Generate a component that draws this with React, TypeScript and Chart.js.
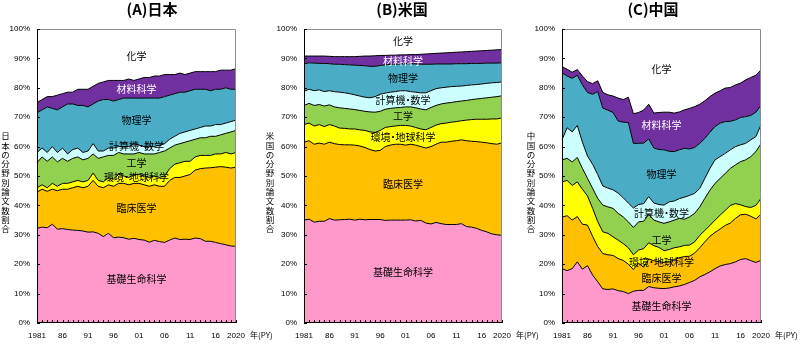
import React, { useEffect, useRef } from "react";
import { Chart, registerables } from "chart.js";

Chart.register(...registerables);

// ---------- categories ----------
const years = [
  1981, 1982, 1983, 1984, 1985, 1986, 1987, 1988, 1989, 1990,
  1991, 1992, 1993, 1994, 1995, 1996, 1997, 1998, 1999, 2000,
  2001, 2002, 2003, 2004, 2005, 2006, 2007, 2008, 2009, 2010,
  2011, 2012, 2013, 2014, 2015, 2016, 2017, 2018, 2019, 2020,
];
const xTickYears = [1981, 1986, 1991, 1996, 2001, 2006, 2011, 2016, 2020];
const xTickTexts = ["1981", "86", "91", "96", "01", "06", "11", "16", "2020"];
const yTickValues = [0, 10, 20, 30, 40, 50, 60, 70, 80, 90, 100];

const fieldNames = ["基礎生命科学", "臨床医学", "環境・地球科学", "工学", "計算機・数学", "物理学", "材料科学", "化学"];
const fieldColors = ["#FF99CC", "#FFC000", "#FFFF00", "#92D050", "#CCFFFF", "#4BACC6", "#7030A0", "#FFFFFF"];

// ---------- (A) Japan: share of papers by field (%) ----------
const jpLife = [32.2, 32.6, 32.4, 33.6, 31.9, 32.1, 31.8, 31.6, 31.5, 31.3, 30.9, 31.0, 30.5, 29.4, 30.5, 29.0, 29.2, 29.0, 28.5, 28.8, 28.4, 28.2, 27.5, 28.1, 27.7, 27.4, 28.2, 28.9, 28.4, 28.5, 28.4, 28.9, 28.7, 27.8, 27.8, 27.4, 27.0, 26.6, 26.2, 26.1];
const jpClinical = [12.3, 12.9, 12.4, 11.9, 13.1, 13.4, 13.7, 14.4, 15.0, 14.7, 15.6, 17.5, 16.0, 16.6, 16.5, 17.5, 18.3, 18.5, 18.5, 18.7, 19.1, 18.8, 19.0, 18.9, 18.8, 19.1, 20.3, 20.6, 21.1, 21.5, 22.1, 23.1, 23.8, 24.9, 25.0, 25.6, 26.2, 26.4, 26.5, 26.9];
const jpEnv = [1.5, 1.5, 1.2, 2.0, 1.5, 2.0, 2.0, 2.0, 2.0, 2.0, 2.0, 2.5, 2.0, 2.0, 2.5, 2.5, 3.0, 2.5, 2.5, 3.0, 3.0, 3.0, 3.0, 3.0, 3.0, 3.5, 4.0, 4.5, 5.0, 5.0, 4.5, 4.5, 4.5, 4.3, 4.2, 4.5, 4.3, 5.0, 4.8, 5.0];
const jpEng = [8.5, 9.5, 9.0, 9.0, 8.3, 8.5, 7.5, 8.0, 8.0, 7.5, 7.5, 6.5, 7.5, 8.5, 7.5, 8.0, 7.5, 7.5, 8.0, 7.0, 7.5, 7.5, 8.0, 7.5, 8.5, 8.5, 7.0, 6.5, 6.5, 6.5, 7.0, 6.0, 6.0, 6.0, 6.5, 6.0, 6.5, 6.5, 7.5, 7.5];
const jpComp = [3.5, 3.0, 3.0, 3.5, 3.2, 3.5, 2.5, 3.0, 3.0, 2.5, 2.5, 3.5, 2.5, 2.0, 2.5, 2.5, 2.0, 2.5, 2.5, 3.5, 2.5, 2.5, 2.5, 2.5, 2.5, 2.5, 3.0, 3.0, 3.5, 3.5, 3.5, 3.5, 3.5, 4.0, 3.5, 4.0, 3.5, 3.5, 3.5, 3.5];
const jpPhys = [13.5, 13.0, 15.5, 13.0, 14.5, 14.0, 17.0, 15.5, 14.5, 16.0, 15.0, 13.5, 17.0, 17.5, 16.5, 16.0, 16.0, 16.5, 16.5, 15.5, 16.0, 16.5, 16.5, 16.5, 16.0, 16.0, 15.0, 14.5, 14.0, 13.5, 13.5, 13.5, 13.0, 12.5, 12.0, 12.0, 12.0, 12.0, 11.0, 10.5];
const jpMat = [3.5, 3.5, 3.5, 4.0, 5.0, 4.5, 4.0, 4.0, 5.5, 5.5, 6.0, 6.0, 6.0, 6.0, 6.5, 7.0, 6.5, 6.0, 6.5, 6.0, 6.5, 7.0, 7.0, 7.5, 7.5, 7.5, 7.0, 6.5, 6.5, 6.0, 6.0, 6.0, 6.0, 6.0, 6.5, 6.0, 6.5, 6.0, 6.5, 7.0];
const jpChem = [25.0, 24.0, 23.0, 23.0, 22.5, 22.0, 21.5, 21.5, 20.5, 20.5, 20.5, 19.5, 18.5, 18.0, 17.5, 17.5, 17.5, 17.5, 17.0, 17.5, 17.0, 16.5, 16.5, 16.0, 16.0, 15.5, 15.5, 15.5, 15.0, 15.5, 15.0, 14.5, 14.5, 14.5, 14.5, 14.5, 14.0, 14.0, 14.0, 13.5];

// ---------- (B) USA ----------
const usLife = [35.0, 35.3, 34.3, 34.6, 34.6, 35.5, 35.0, 35.1, 35.2, 35.3, 35.0, 35.3, 35.1, 35.2, 35.2, 35.2, 34.9, 35.0, 35.0, 35.0, 35.0, 35.1, 34.7, 34.9, 34.0, 33.7, 34.2, 33.8, 33.5, 33.5, 33.5, 33.8, 32.8, 32.6, 32.2, 31.5, 31.0, 30.3, 30.0, 29.8];
const usClinical = [26.5, 26.7, 26.5, 26.6, 26.2, 26.0, 26.0, 25.6, 25.4, 25.3, 25.5, 24.9, 24.6, 23.8, 23.3, 23.5, 25.1, 25.5, 25.8, 25.8, 25.5, 25.7, 25.8, 25.1, 25.5, 26.3, 26.6, 27.7, 28.0, 28.3, 28.5, 28.5, 29.2, 29.2, 29.5, 30.0, 30.3, 30.7, 30.8, 31.5];
const usEnv = [6.0, 6.0, 6.2, 6.3, 6.0, 6.0, 6.0, 5.6, 5.6, 5.4, 5.5, 5.5, 5.8, 6.0, 6.3, 6.8, 6.5, 6.3, 6.2, 6.4, 6.7, 6.2, 6.0, 6.0, 6.2, 6.5, 6.5, 6.3, 6.5, 6.5, 6.5, 6.5, 7.0, 7.4, 7.6, 7.8, 8.0, 8.4, 8.6, 8.5];
const usEng = [6.5, 6.7, 7.0, 6.8, 7.0, 6.7, 6.5, 6.9, 6.8, 6.8, 6.6, 6.6, 6.5, 6.8, 6.9, 6.5, 6.2, 6.2, 6.2, 6.1, 6.3, 6.5, 6.7, 6.8, 6.8, 6.8, 6.7, 6.7, 6.8, 6.7, 6.8, 6.7, 6.7, 6.8, 6.9, 7.1, 7.3, 7.4, 7.6, 7.5];
const usComp = [4.8, 4.8, 5.0, 5.0, 4.9, 4.8, 5.2, 5.3, 5.3, 5.2, 5.0, 4.9, 4.8, 4.8, 5.3, 5.8, 5.5, 5.5, 5.5, 5.7, 5.5, 5.2, 5.3, 5.5, 5.8, 5.7, 5.7, 5.5, 5.4, 5.4, 5.2, 5.1, 5.1, 5.0, 4.9, 4.9, 4.9, 4.9, 4.8, 4.7];
const usPhys = [9.4, 9.0, 9.4, 9.0, 9.6, 9.2, 9.3, 9.5, 9.6, 9.8, 10.1, 10.4, 10.7, 10.7, 10.3, 9.8, 9.6, 9.5, 9.3, 9.1, 9.2, 9.5, 9.6, 9.7, 9.7, 9.0, 8.4, 8.1, 7.9, 7.7, 7.7, 7.6, 7.4, 7.3, 7.2, 7.0, 6.9, 6.7, 6.6, 6.5];
const usMat = [2.6, 2.3, 2.4, 2.5, 2.5, 2.5, 2.6, 2.6, 2.7, 2.8, 2.9, 3.1, 3.3, 3.5, 3.6, 3.4, 3.2, 3.1, 3.1, 3.1, 3.0, 3.1, 3.2, 3.4, 3.5, 3.6, 3.6, 3.7, 3.8, 3.9, 3.9, 4.0, 4.1, 4.1, 4.2, 4.3, 4.3, 4.4, 4.5, 4.5];
const usChem = [9.2, 9.2, 9.2, 9.2, 9.2, 9.3, 9.4, 9.4, 9.4, 9.4, 9.4, 9.3, 9.2, 9.2, 9.1, 9.0, 9.0, 8.9, 8.9, 8.8, 8.8, 8.7, 8.7, 8.6, 8.5, 8.4, 8.3, 8.2, 8.1, 8.0, 7.9, 7.8, 7.7, 7.6, 7.5, 7.4, 7.3, 7.2, 7.1, 7.0];

// ---------- (C) China ----------
const cnLife = [18.5, 17.8, 18.5, 20.8, 18.3, 19.5, 16.3, 14.0, 11.6, 11.4, 11.6, 11.0, 10.7, 10.0, 10.8, 11.1, 11.1, 12.4, 12.0, 11.8, 11.7, 11.9, 12.3, 12.6, 13.1, 13.8, 14.5, 15.7, 16.5, 17.4, 18.5, 19.4, 19.9, 20.2, 20.8, 21.6, 21.9, 21.2, 20.6, 21.3];
const cnClinical = [17.5, 18.7, 16.5, 15.4, 15.3, 13.8, 13.2, 12.0, 12.0, 11.8, 11.4, 10.9, 10.6, 10.0, 7.4, 9.2, 7.9, 9.4, 9.2, 9.0, 8.9, 8.9, 9.2, 9.6, 9.5, 8.9, 9.3, 9.9, 11.1, 12.1, 12.3, 12.6, 13.3, 13.8, 14.8, 15.2, 15.1, 15.1, 14.8, 15.7];
const cnEnv = [12.0, 12.0, 11.8, 11.8, 11.9, 9.9, 9.5, 8.5, 7.4, 7.3, 6.3, 6.3, 5.7, 5.6, 5.0, 4.5, 6.3, 5.5, 5.1, 4.9, 4.0, 4.2, 4.1, 3.7, 3.8, 3.8, 3.8, 4.2, 3.9, 3.7, 4.2, 4.7, 5.1, 6.0, 5.0, 3.4, 2.6, 3.0, 4.6, 5.4];
const cnEng = [7.5, 7.5, 8.0, 8.3, 7.1, 6.0, 6.8, 7.9, 9.1, 9.0, 9.7, 9.1, 9.1, 8.8, 9.3, 9.6, 9.3, 9.7, 8.7, 8.7, 9.3, 9.4, 9.4, 9.7, 8.9, 9.6, 9.7, 9.7, 10.9, 12.0, 12.5, 12.5, 12.6, 12.6, 13.2, 14.7, 15.9, 17.3, 18.3, 18.6];
const cnComp = [6.8, 10.4, 10.2, 10.9, 8.9, 7.6, 8.2, 8.1, 6.5, 6.4, 6.3, 6.9, 6.5, 6.4, 6.6, 5.9, 6.0, 6.0, 5.8, 5.9, 6.2, 6.8, 6.5, 6.7, 7.5, 7.3, 6.8, 6.3, 6.8, 7.4, 8.0, 7.4, 6.8, 6.3, 6.2, 5.7, 5.6, 5.7, 5.1, 6.4];
const cnPhys = [22.8, 17.6, 18.2, 17.1, 19.5, 21.6, 23.8, 28.2, 26.5, 26.5, 26.3, 24.5, 25.7, 27.4, 22.0, 20.8, 20.6, 19.6, 18.7, 18.7, 18.8, 17.2, 16.8, 16.6, 16.6, 15.8, 15.6, 15.3, 13.6, 12.3, 11.3, 11.4, 10.8, 9.7, 9.1, 9.3, 9.1, 8.3, 8.3, 6.7];
const cnMat = [2.1, 2.3, 2.1, 1.9, 3.0, 3.7, 3.6, 3.7, 5.3, 5.2, 5.6, 7.8, 7.7, 8.6, 10.1, 10.5, 11.2, 11.8, 11.9, 12.6, 12.8, 13.3, 13.1, 12.9, 13.1, 13.8, 13.9, 13.3, 12.8, 12.1, 11.4, 11.0, 11.4, 11.5, 11.9, 11.7, 12.5, 12.9, 12.6, 12.0];
const cnChem = [12.8, 13.7, 14.7, 13.8, 16.0, 17.9, 18.6, 17.6, 21.6, 22.4, 22.8, 23.5, 24.0, 23.2, 28.8, 28.4, 27.6, 25.6, 28.6, 28.4, 28.3, 28.3, 28.6, 28.2, 27.5, 27.0, 26.4, 25.6, 24.4, 23.0, 21.8, 21.0, 20.1, 19.9, 19.0, 18.4, 17.3, 16.5, 15.7, 13.9];

// in-plot field label heights (percent), bottom to top
const jpLabelY = [14.8, 39.0, 49.6, 54.3, 60.0, 68.9, 79.6, 90.9];
const usLabelY = [17.4, 47.3, 63.1, 70.2, 75.7, 83.3, 89.2, 95.8];
const cnLabelY = [5.7, 15.1, 20.8, 28.2, 37.3, 50.6, 67.4, 86.2];

const CJK = "'Noto Sans CJK JP', 'Noto Sans', sans-serif";
const LATIN = "'Liberation Sans', Arial, sans-serif";

const panels = [
  {
    left: 0, width: 300, yWidth: 37, padRight: 64,
    title: "(A)日本", titleX: 152, vTitle: "日本の分野別論文数割合", vTitleX: 5.5,
    series: [jpLife, jpClinical, jpEnv, jpEng, jpComp, jpPhys, jpMat, jpChem], labelY: jpLabelY,
  },
  {
    left: 265, width: 300, yWidth: 39, padRight: 63,
    title: "(B)米国", titleX: 137, vTitle: "米国の分野別論文数割合", vTitleX: 5,
    series: [usLife, usClinical, usEnv, usEng, usComp, usPhys, usMat, usChem], labelY: usLabelY,
  },
  {
    left: 520, width: 280, yWidth: 42, padRight: 39,
    title: "(C)中国", titleX: 133, vTitle: "中国の分野別論文数割合", vTitleX: 11,
    series: [cnLife, cnClinical, cnEnv, cnEng, cnComp, cnPhys, cnMat, cnChem], labelY: cnLabelY,
  },
];

// draw a label centred at (cx, cy), giving the middle dot a narrow slot
function drawLabel(ctx: CanvasRenderingContext2D, text: string, cx: number, cy: number) {
  const parts = text.split("・");
  const dotW = 5;
  const widths = parts.map((p) => ctx.measureText(p).width);
  const total = widths.reduce((s, w) => s + w, 0) + dotW * (parts.length - 1);
  let x = cx - total / 2;
  ctx.textAlign = "left";
  parts.forEach((p, i) => {
    ctx.fillText(p, x, cy);
    x += widths[i];
    if (i < parts.length - 1) {
      ctx.textAlign = "center";
      ctx.fillText("・", x + dotW / 2, cy);
      ctx.textAlign = "left";
      x += dotW;
    }
  });
}

const decorPlugin = {
  id: "panelDecor",
  afterDraw(chart: any, _args: any, opts: any) {
    const { ctx, chartArea: a } = chart;
    const ys = chart.scales.y;
    const xs = chart.scales.x;
    ctx.save();
    // frame
    ctx.lineWidth = 1;
    ctx.strokeStyle = "#8c8c8c";
    ctx.beginPath();
    ctx.moveTo(a.left, a.top + 0.5);
    ctx.lineTo(a.right - 0.5, a.top + 0.5);
    ctx.lineTo(a.right - 0.5, a.bottom);
    ctx.stroke();
    ctx.strokeStyle = "#000";
    ctx.beginPath();
    ctx.moveTo(a.left + 0.5, a.top);
    ctx.lineTo(a.left + 0.5, a.bottom - 0.5);
    ctx.lineTo(a.right, a.bottom - 0.5);
    ctx.stroke();
    // inward tick marks
    ctx.beginPath();
    for (const v of yTickValues) {
      const py = Math.round(ys.getPixelForValue(v)) + 0.5;
      ctx.moveTo(a.left, py);
      ctx.lineTo(a.left + 3, py);
    }
    for (let i = 0; i < years.length; i++) {
      const px = Math.round(xs.getPixelForValue(i)) + 0.5;
      ctx.moveTo(px, a.bottom);
      ctx.lineTo(px, a.bottom - 3);
    }
    ctx.stroke();

    // field labels inside the areas
    ctx.font = `10px ${CJK}`;
    ctx.textBaseline = "middle";
    const cx = (a.left + a.right) / 2;
    fieldNames.forEach((name, i) => {
      ctx.fillStyle = i === 6 ? "#FFFFFF" : "#000000";
      drawLabel(ctx, name, cx, ys.getPixelForValue(opts.labelY[i]));
    });

    // panel title
    ctx.fillStyle = "#000";
    ctx.textAlign = "center";
    ctx.font = `bold 15px ${CJK}`;
    ctx.fillText(opts.title, opts.titleX, 9.5);

    // vertical y-axis title
    ctx.font = `8.5px ${CJK}`;
    const chars = Array.from(opts.vTitle as string);
    chars.forEach((ch, i) => {
      ctx.fillText(ch, opts.vTitleX, 136 + i * 9.3);
    });

    // x-axis unit
    ctx.font = `8px ${CJK}`;
    ctx.textAlign = "left";
    ctx.fillText("年(PY)", a.right + 14, 335);
    ctx.restore();
  },
};

function Panel({ cfg }: { cfg: (typeof panels)[number] }) {
  const ref = useRef<HTMLCanvasElement | null>(null);
  useEffect(() => {
    if (!ref.current) return;
    const datasets = cfg.series.map((arr, i) => ({
      label: fieldNames[i],
      data: arr,
      backgroundColor: fieldColors[i],
      borderColor: i === 7 ? "rgba(0,0,0,0)" : "#000000",
      borderWidth: i === 7 ? 0 : 1,
      fill: i === 0 ? "origin" : "-1",
      pointRadius: 0,
      pointHoverRadius: 0,
      tension: 0,
    }));
    const chart = new Chart(ref.current, {
      type: "line",
      data: { labels: years.map(String), datasets },
      plugins: [decorPlugin],
      options: {
        responsive: false,
        animation: false,
        events: [],
        layout: { padding: { left: 0, top: 29, right: cfg.padRight, bottom: 0 } },
        plugins: {
          legend: { display: false },
          title: { display: false },
          tooltip: { enabled: false },
          panelDecor: { title: cfg.title, titleX: cfg.titleX, vTitle: cfg.vTitle, vTitleX: cfg.vTitleX, labelY: cfg.labelY },
        } as any,
        scales: {
          x: {
            type: "category",
            offset: false,
            grid: { display: false, drawTicks: false },
            border: { display: false },
            ticks: {
              autoSkip: false,
              maxRotation: 0,
              minRotation: 0,
              padding: 8,
              color: "#000",
              font: { family: LATIN, size: 8 },
              callback: (_v: any, index: number) => {
                const k = xTickYears.indexOf(years[index]);
                return k >= 0 ? xTickTexts[k] : "";
              },
            },
            afterFit: (scale: any) => { scale.height = 34; },
          },
          y: {
            stacked: true,
            min: 0,
            max: 100,
            grid: { display: false, drawTicks: false },
            border: { display: false },
            ticks: {
              stepSize: 10,
              padding: 7,
              color: "#000",
              font: { family: LATIN, size: 8 },
              callback: (v: any) => `${v}%`,
            },
            afterFit: (scale: any) => { scale.width = cfg.yWidth; },
          },
        },
      } as any,
    });
    return () => chart.destroy();
  }, [cfg]);
  return (
    <canvas
      ref={ref}
      width={cfg.width}
      height={357}
      style={{ position: "absolute", left: cfg.left, top: 0, width: cfg.width, height: 357 }}
    />
  );
}

export default function App() {
  return (
    <div style={{ position: "absolute", left: 0, top: 0, width: 800, height: 357, background: "#fff", overflow: "hidden" }}>
      {panels.map((p, i) => (
        <Panel key={i} cfg={p} />
      ))}
    </div>
  );
}
